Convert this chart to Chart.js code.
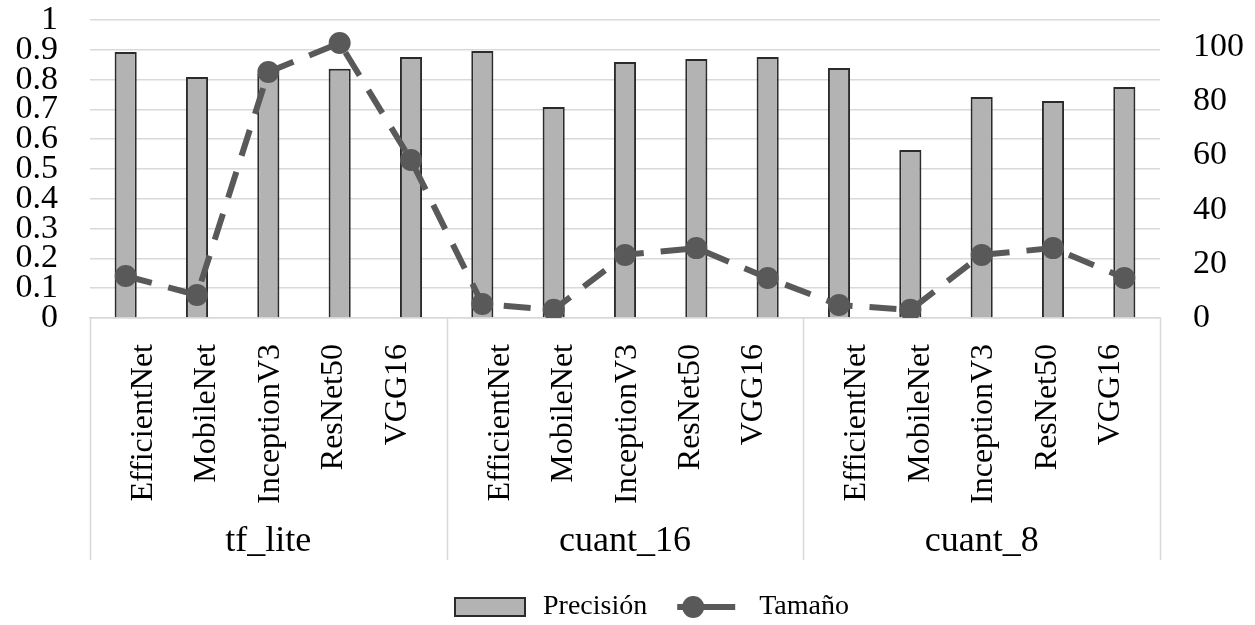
<!DOCTYPE html>
<html>
<head>
<meta charset="utf-8">
<script src="https://cdn.jsdelivr.net/npm/chart.js@4/dist/chart.umd.min.js"></script>
<style>
  html, body { margin: 0; padding: 0; background: #ffffff; }
  #wrap { width: 1255px; height: 625px; }
</style>
</head>
<body>
<div id="wrap"><canvas id="c" width="1255" height="625"></canvas></div>
<script>
// Models evaluated in each export format
const groups = ['tf_lite', 'cuant_16', 'cuant_8'];
const models = ['EfficientNet', 'MobileNet', 'InceptionV3', 'ResNet50', 'VGG16'];
const categories = groups.flatMap(() => models);

// Precisión (left axis, 0–1)
const precision = [
  0.893, 0.809, 0.82, 0.836, 0.876,
  0.896, 0.708, 0.859, 0.869, 0.876,
  0.839, 0.564, 0.742, 0.728, 0.775
];

// Tamaño (right axis)
const size = [
  15.5, 8.5, 90.8, 101.5, 58.3,
  5.2, 3.0, 23.3, 25.8, 14.8,
  4.8, 3.0, 23.3, 25.8, 14.8
];

// Tick values of the right axis
const sizeTicks = [0, 20, 40, 60, 80, 100];

const seriesNames = ['Precisión', 'Tamaño'];

const FONT = "'Liberation Serif', 'Times New Roman', serif";
const GRID = '#d9d9d9';
const BAR_FILL = '#b3b3b3';
const BAR_EDGE = '#2b2b2b';
const LINE_COL = '#595959';

// Model names sit a little closer together than the bars, centred on their group
const LABEL_SQUEEZE = 0.89;
const squeezeLabels = {
  id: 'squeezeLabels',
  beforeDraw(chart) {
    const x = chart.scales.x;
    const items = x.getLabelItems(chart.chartArea);
    const per = models.length;
    items.forEach((item, i) => {
      const g = Math.floor(i / per);
      const center = (x.getPixelForValue(g * per) + x.getPixelForValue(g * per + per - 1)) / 2;
      const t = item.options.translation;
      t[0] = center + (t[0] - center) * LABEL_SQUEEZE;
    });
  }
};

// Vertical separators below the axis that box each group of models
const groupBoxes = {
  id: 'groupBoxes',
  afterDraw(chart) {
    const x = chart.scales.x, x2 = chart.scales.x2;
    const ctx = chart.ctx;
    const per = models.length;
    const xs = [x.left];
    for (let g = 1; g < groups.length; g++) {
      xs.push((x.getPixelForValue(g * per - 1) + x.getPixelForValue(g * per)) / 2);
    }
    xs.push(x.right);
    ctx.save();
    ctx.strokeStyle = GRID;
    ctx.lineWidth = 1.5;
    xs.forEach(px => {
      ctx.beginPath();
      ctx.moveTo(Math.round(px) + 0.5, x.top);
      ctx.lineTo(Math.round(px) + 0.5, x2.bottom);
      ctx.stroke();
    });
    ctx.restore();
  }
};

// Legend drawn under the group labels: bar swatch and line-with-marker swatch
const bottomLegend = {
  id: 'bottomLegend',
  afterDraw(chart) {
    const ctx = chart.ctx;
    const y = chart.height - 18;
    ctx.save();
    ctx.font = '28px ' + FONT;
    ctx.textBaseline = 'middle';
    const w0 = ctx.measureText(seriesNames[0]).width;
    const boxW = 70, gapT = 18, gapItems = 30, lineW = 58, gapT2 = 24;
    let cx = 455;
    // bar swatch
    ctx.fillStyle = BAR_FILL;
    ctx.strokeStyle = BAR_EDGE;
    ctx.lineWidth = 2;
    ctx.fillRect(cx, y - 9, boxW, 18);
    ctx.strokeRect(cx, y - 9, boxW, 18);
    cx += boxW + gapT;
    ctx.fillStyle = '#000000';
    ctx.fillText(seriesNames[0], cx, y);
    cx += w0 + gapItems;
    // line swatch
    ctx.strokeStyle = LINE_COL;
    ctx.lineWidth = 6;
    ctx.beginPath();
    ctx.moveTo(cx, y);
    ctx.lineTo(cx + lineW, y);
    ctx.stroke();
    ctx.fillStyle = LINE_COL;
    ctx.beginPath();
    ctx.arc(cx + 16, y, 11, 0, Math.PI * 2);
    ctx.fill();
    cx += lineW + gapT2;
    ctx.fillStyle = '#000000';
    ctx.fillText(seriesNames[1], cx, y);
    ctx.restore();
  }
};

new Chart(document.getElementById('c'), {
  data: {
    labels: categories,
    datasets: [
      {
        type: 'line',
        label: seriesNames[1],
        data: size,
        yAxisID: 'y1',
        xAxisID: 'x',
        order: 1,
        borderColor: LINE_COL,
        borderWidth: 6,
        borderDash: [27, 17],
        pointRadius: 11,
        pointBackgroundColor: LINE_COL,
        pointBorderColor: LINE_COL,
        pointBorderWidth: 0,
        tension: 0,
        fill: false
      },
      {
        type: 'bar',
        label: seriesNames[0],
        data: precision,
        yAxisID: 'y',
        xAxisID: 'x',
        order: 2,
        backgroundColor: BAR_FILL,
        borderColor: BAR_EDGE,
        borderWidth: 2,
        categoryPercentage: 1,
        barPercentage: 0.31
      }
    ]
  },
  options: {
    responsive: false,
    animation: false,
    layout: { padding: { top: 20, bottom: 65, left: 0, right: 0 } },
    plugins: { legend: { display: false }, tooltip: { enabled: false } },
    scales: {
      x: {
        type: 'category',
        position: 'bottom',
        weight: 0,
        offset: true,
        grid: { display: false, drawTicks: false },
        border: { display: true, color: GRID, width: 1.5 },
        ticks: {
          autoSkip: false,
          minRotation: 90,
          maxRotation: 90,
          padding: 26,
          color: '#000000',
          font: { family: FONT, size: 32 }
        },
        afterFit(s) { s.height = 200; s.paddingLeft = 0; s.paddingRight = 0; }
      },
      x2: {
        type: 'category',
        position: 'bottom',
        weight: 1,
        labels: groups,
        offset: true,
        grid: { display: false, drawTicks: false },
        border: { display: false },
        ticks: {
          autoSkip: false,
          maxRotation: 0,
          padding: 2,
          color: '#000000',
          font: { family: FONT, size: 36 }
        },
        afterFit(s) { s.height = 42; s.paddingLeft = 0; s.paddingRight = 0; }
      },
      y: {
        position: 'left',
        min: 0,
        max: 1,
        grid: { color: GRID, lineWidth: 1.5, drawTicks: false },
        border: { display: false },
        ticks: {
          stepSize: 0.1,
          autoSkip: false,
          padding: 32,
          color: '#000000',
          font: { family: FONT, size: 34, lineHeight: 1 },
          callback: v => String(+v.toFixed(1))
        },
        afterFit(s) { s.width = 90; s.paddingTop = 0; s.paddingBottom = 0; }
      },
      y1: {
        position: 'right',
        min: 0,
        max: 110,
        grid: { display: false, drawTicks: false },
        border: { display: false },
        ticks: {
          autoSkip: false,
          padding: 33,
          color: '#000000',
          font: { family: FONT, size: 34, lineHeight: 1 }
        },
        afterBuildTicks(s) { s.ticks = sizeTicks.map(v => ({ value: v })); },
        afterFit(s) { s.width = 95; s.paddingTop = 0; s.paddingBottom = 0; }
      }
    }
  },
  plugins: [squeezeLabels, groupBoxes, bottomLegend]
});
</script>
</body>
</html>
